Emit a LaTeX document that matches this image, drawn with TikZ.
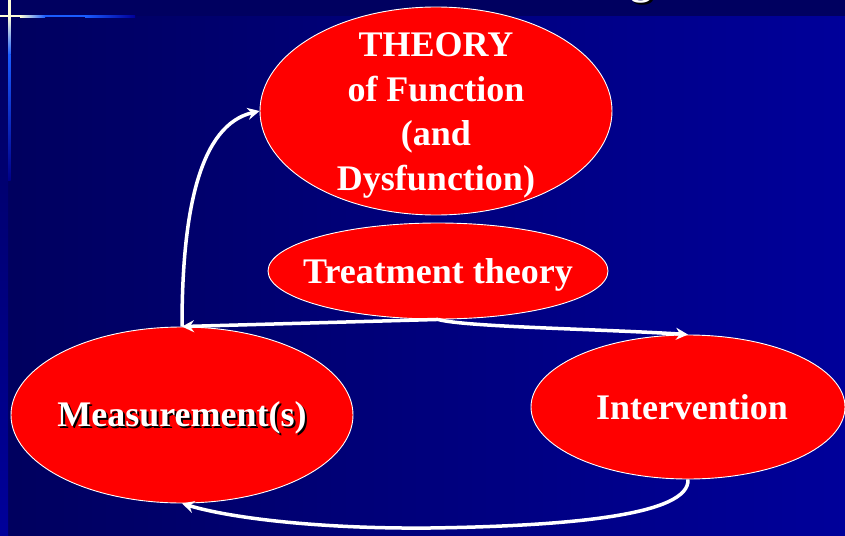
\documentclass[tikz,border=0pt]{standalone}
\usepackage{fontspec}
\setmainfont{Liberation Serif}
\usetikzlibrary{shapes.geometric,arrows.meta}
\definecolor{navy}{HTML}{00005E}
\definecolor{topnavy}{HTML}{000060}
\definecolor{royal}{HTML}{00009A}
\definecolor{spark}{HTML}{1A5CFF}
\definecolor{pale}{HTML}{FFFFD8}
\definecolor{slidered}{HTML}{FF0000}
\begin{document}
\begin{tikzpicture}[x=1pt,y=-1pt,
  bubble/.style={ellipse, draw=white, line width=0.9pt, fill=slidered, inner sep=0pt},
  bubbletext/.style={text=white, font=\fontsize{36}{44.5}\selectfont\bfseries, inner sep=0pt, align=center},
  flow/.style={draw=white, line width=3.5pt, -{Stealth[length=12pt,width=12pt,inset=4pt]}},
]
\useasboundingbox (0,0) rectangle (845,535);

% backdrop
\fill[topnavy] (0,0) rectangle (845,17);
\shade[left color=navy, right color=royal] (0,17) rectangle (845,535);
\shade[top color=navy, bottom color=royal] (0,17) rectangle (8,535);

% title lettering running off the top edge
\node[font=\fontsize{44}{50}\selectfont\bfseries, text=black, inner sep=0pt, anchor=base] (titleshade) at (643,-4) {g};
\node[font=\fontsize{44}{50}\selectfont\bfseries, text=white, inner sep=0pt, anchor=base] (title) at (641,-6) {g};

% corner ornament
\fill[pale] (0,15.5) rectangle (20,17.5);
\shade[left color=pale, right color=spark] (20,15.5) rectangle (45,17.5);
\fill[spark] (45,15.5) rectangle (85,17.5);
\shade[left color=spark, right color=royal] (85,15.5) rectangle (135,17.5);
\fill[pale] (8,0) rectangle (10.5,17);
\shade[top color=pale, bottom color=spark] (8,17) rectangle (10.5,55);
\shade[top color=spark, bottom color=royal!70!navy] (8,55) rectangle (10.5,180);

% bubbles
\node[bubble, minimum width=352pt, minimum height=208pt] (theory) at (436,111) {};
\node[bubble, minimum width=340pt, minimum height=96pt] (treat) at (438,271) {};
\node[bubble, minimum width=342pt, minimum height=176pt] (meas) at (182,415) {};
\node[bubble, minimum width=314pt, minimum height=144pt] (interv) at (688,407) {};

% bubble texts
\node[bubbletext] (theorytext) at (436,115.5) {THEORY\\of Function\\(and\\Dysfunction)};
\node[bubbletext, anchor=base] (treattext) at (438,283) {Treatment theory};
\node[bubbletext, text=black, anchor=base] (meastextshade) at (184,428) {Measurement(s)};
\node[bubbletext, anchor=base] (meastext) at (182,426) {Measurement(s)};
\node[bubbletext, anchor=base] (intervtext) at (692,419) {Intervention};

% connectors
\draw[flow] (meas.north) .. controls (182,210) and (200,125) .. (theory.west);
\draw[flow] (treat.south) -- (meas.north);
\draw[flow] (treat.south) .. controls (465,327) and (600,329) .. (interv.north);
\draw[flow] (interv.south) .. controls (690,515) and (570,526) .. (430,528)
                          .. controls (320,529) and (230,518) .. (meas.south);
\end{tikzpicture}
\end{document}
